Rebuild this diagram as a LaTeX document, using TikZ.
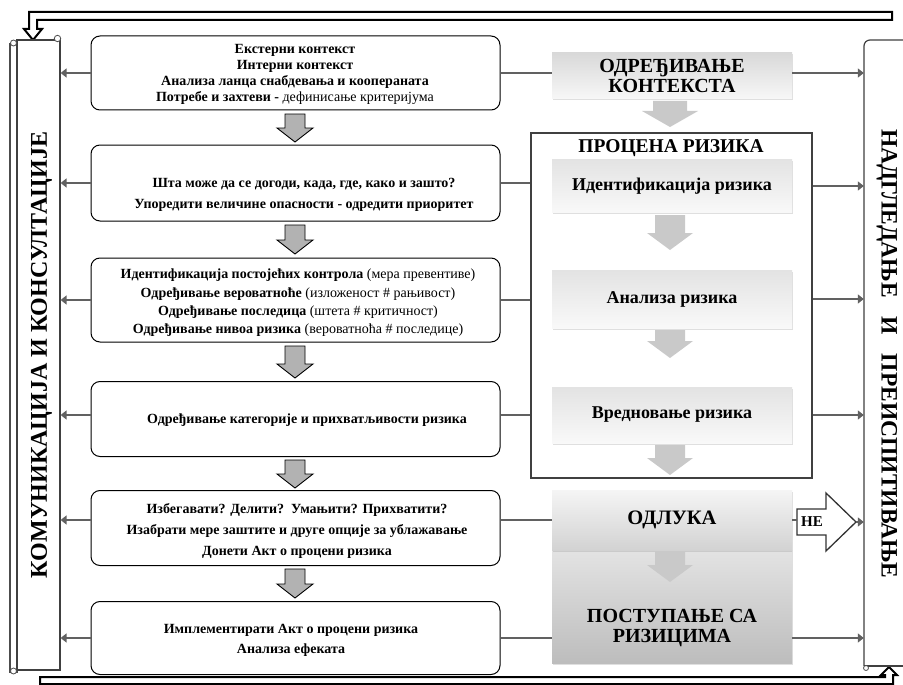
\documentclass[tikz,border=0pt]{standalone}
\usepackage{fontspec}
\setmainfont{Liberation Serif}
\usetikzlibrary{arrows.meta,shadows,calc}
\newcommand{\dnarrow}[7]{\path[#1] ({#2-#5},#3) -- ({#2+#5},#3) -- ({#2+#5},{#4-#7}) -- ({#2+#6},{#4-#7}) -- (#2,#4) -- ({#2-#6},{#4-#7}) -- ({#2-#5},{#4-#7}) -- cycle;}
\tikzset{
  lbox/.style={draw=black, line width=1pt, rounded corners=9pt, fill=white, minimum width=409pt, inner sep=0pt},
  ltxt/.style={align=center, inner sep=0pt, font=\fontsize{14}{#1}\selectfont\bfseries},
  gbox/.style={minimum width=240pt, inner sep=0pt, align=center, drop shadow={opacity=0.25, shadow xshift=0.8pt, shadow yshift=-1.5pt}},
  conn/.style={draw=black!62, line width=1.8pt},
  ltip/.style={-{Triangle[length=6pt,width=9pt]}},
  larrow/.style={fill=gray!60, draw=black, line width=0.9pt},
  rarrow/.style={fill=gray!42},
  feed/.style={draw=black, line width=2pt, fill=white, line join=miter},
}
\begin{document}
\begin{tikzpicture}[x=1pt,y=-1pt]
\useasboundingbox (0,0) rectangle (903,685);
\fill[white] (0,0) rectangle (903,685);

% feedback arrows
\draw[feed] (892,12) -- (29,12) -- (29,29) -- (24,29) -- (33,40) -- (42,29) -- (37,29) -- (37,20) -- (892,20) -- cycle;
\draw[feed] (40,677) -- (885,677) -- (885,675) -- (881,675) -- (889,667) -- (897,675) -- (893,675) -- (893,684) -- (40,684) -- cycle;

% left scroll
\draw[draw=black!70, line width=1.1pt, fill=white] (10,44) rectangle (17,672);
\node[draw=black!75, line width=1.2pt, fill=white, minimum width=43pt, minimum height=630pt, inner sep=0pt] (lcol) at (38.5,355) {};
\draw[black!70, line width=0.8pt, fill=white] (13.5,43) circle[radius=3pt];
\draw[black!70, line width=0.8pt, fill=white] (57.5,38.5) circle[radius=3.2pt];
\draw[black!70, line width=0.8pt, fill=white] (13.5,671) circle[radius=3pt];
\node[rotate=90, font=\fontsize{24}{24}\selectfont\bfseries, inner sep=0pt] (ltext) at (41.5,355) {КОМУНИКАЦИЈА И КОНСУЛТАЦИЈЕ};

% right column
\node[minimum width=40pt, minimum height=626pt, inner sep=0pt] (rcol) at (884,353) {};
\draw[black!75, line width=1.2pt] (864,666) [rounded corners=6pt] -- (864,40) -- (906,40);
\draw[black!75, line width=1.2pt] (864,666) -- (906,666);
\draw[black!70, line width=0.8pt, fill=white] (866,668) circle[radius=2.5pt];
\node[rotate=-90, font=\fontsize{23.5}{23.5}\selectfont\bfseries, inner sep=0pt] (rtext) at (887,354) {НАДГЛЕДАЊЕ\hspace{13pt} И\hspace{13pt} ПРЕИСПИТИВАЊЕ};

% left boxes
\node[lbox, minimum height=74pt] (b1) at (295.5,73) {};
\node[lbox, minimum height=76pt] (b2) at (295.5,183) {};
\node[lbox, minimum height=84pt] (b3) at (295.5,300) {};
\node[lbox, minimum height=75pt] (b4) at (295.5,419) {};
\node[lbox, minimum height=75pt] (b5) at (295.5,528) {};
\node[lbox, minimum height=73pt] (b6) at (295.5,638) {};

\node[ltxt=16] (t1) at (295,74) {Екстерни контекст\\Интерни контекст\\Анализа ланца снабдевања и коопераната\\Потребе и захтеви - \textmd{дефинисање критеријума}};
\node[ltxt=21] (t2) at (304,195) {Шта може да се догоди, када, где, како и зашто?\\Упоредити величине опасности - одредити приоритет};
\node[ltxt=18.3] (t3) at (298,303) {Идентификација постојећих контрола \textmd{(мера превентиве)}\\Одређивање вероватноће \textmd{(изложеност \# рањивост)}\\Одређивање последица \textmd{(штета \# критичност)}\\Одређивање нивоа ризика \textmd{(вероватноћа \# последице)}};
\node[ltxt=16] (t4) at (307,420) {Одређивање категорије и прихватљивости ризика};
\node[ltxt=21] (t5) at (297,531) {Избегавати? Делити?\ \ Умањити? Прихватити?\\Изабрати мере заштите и друге опције за ублажавање\\Донети Акт о процени ризика};
\node[ltxt=20] (t6) at (291,640) {Имплементирати Акт о процени ризика\\Анализа ефеката};

% left down arrows
\dnarrow{larrow}{295}{114}{142}{10}{18}{14}
\dnarrow{larrow}{295}{225}{254}{10}{18}{14}
\dnarrow{larrow}{295}{346}{378}{10}{18}{14}
\dnarrow{larrow}{295}{460}{488}{10}{18}{14}
\dnarrow{larrow}{295}{569}{598}{10}{18}{14}

% right column content
\node[gbox, minimum height=46pt, top color=gray!30, bottom color=gray!6, font=\fontsize{20}{20}\selectfont\bfseries] (ctx) at (672,76) {ОДРЕЂИВАЊЕ\\КОНТЕКСТА};
\node[draw=black!75, line width=2pt, minimum width=281pt, minimum height=345pt, inner sep=0pt] (frame) at (671.5,305.5) {};
\node[font=\fontsize{19.5}{20}\selectfont\bfseries, inner sep=0pt] (ftitle) at (671,148) {ПРОЦЕНА РИЗИКА};
\node[gbox, minimum height=53pt, top color=gray!22, bottom color=gray!5, font=\fontsize{18}{18}\selectfont\bfseries] (ident) at (672,186) {Идентификација ризика};
\node[gbox, minimum height=58pt, top color=gray!22, bottom color=gray!5, font=\fontsize{18}{18}\selectfont\bfseries] (anal) at (672,299) {Анализа ризика};
\node[gbox, minimum height=56pt, top color=gray!22, bottom color=gray!5, font=\fontsize{18}{18}\selectfont\bfseries] (vredn) at (672,415) {Вредновање ризика};
\node[gbox, minimum height=113pt, top color=gray!22, bottom color=gray!52] (post) at (672,606.5) {};
\node[font=\fontsize{20}{20}\selectfont\bfseries, align=center, inner sep=0pt] (postt) at (672,628) {ПОСТУПАЊЕ СА\\РИЗИЦИМА};
\node[gbox, minimum height=60pt, top color=gray!8, bottom color=gray!35, font=\fontsize{20.5}{20}\selectfont\bfseries] (odl) at (672,520) {ОДЛУКА};

\dnarrow{rarrow}{670}{101}{127}{17}{28}{16}
\dnarrow{rarrow}{670}{215}{250}{15}{23}{17}
\dnarrow{rarrow}{670}{330}{358}{15}{23}{17}
\dnarrow{rarrow}{670}{445}{475}{15}{23}{17}
\dnarrow{rarrow}{670}{551}{582}{15}{23}{17}

% NE arrow
\draw[draw=black!80, line width=1.3pt, fill=white] (797,509) -- (826,509) -- (826,493) -- (856,522) -- (826,551) -- (826,535) -- (797,535) -- cycle;
\node[font=\fontsize{15}{15}\selectfont\bfseries, inner sep=0pt] (ne) at (812,522) {НЕ};
\coordinate (netip) at (856,522);
\coordinate (netail) at (797,520);

% left connectors
\draw[conn, ltip] (b1.west) -- (b1.west -| lcol.east);
\draw[conn, ltip] (b2.west) -- (b2.west -| lcol.east);
\draw[conn, ltip] (b3.west) -- (b3.west -| lcol.east);
\draw[conn, ltip] (b4.west |- vredn.center) -- (lcol.east |- vredn.center);
\draw[conn, ltip] (b5.west |- odl.center) -- (lcol.east |- odl.center);
\draw[conn, ltip] (b6.west) -- (b6.west -| lcol.east);

% box to right column connectors
\draw[conn] (b1.east) -- (b1.east -| ctx.west);
\draw[conn] (b2.east) -- (b2.east -| frame.west);
\draw[conn] (b3.east) -- (b3.east -| frame.west);
\draw[conn] (b4.east |- vredn.center) -- (frame.west |- vredn.center);
\draw[conn] (b5.east |- odl.center) -- (odl.west);
\draw[conn] (b6.east) -- (b6.east -| post.west);
\draw[conn] (odl.east) -- (netail);

% to monitoring column
\draw[conn, ltip] (ctx.east |- b1.east) -- (rcol.west |- b1.east);
\draw[conn, ltip] (frame.east |- ident.center) -- (rcol.west |- ident.center);
\draw[conn, ltip] (frame.east |- anal.center) -- (rcol.west |- anal.center);
\draw[conn, ltip] (frame.east |- vredn.center) -- (rcol.west |- vredn.center);
\draw[conn, ltip] (netip) -- (netip -| rcol.west);
\draw[conn, ltip] (post.east |- b6.east) -- (rcol.west |- b6.east);
\end{tikzpicture}
\end{document}
